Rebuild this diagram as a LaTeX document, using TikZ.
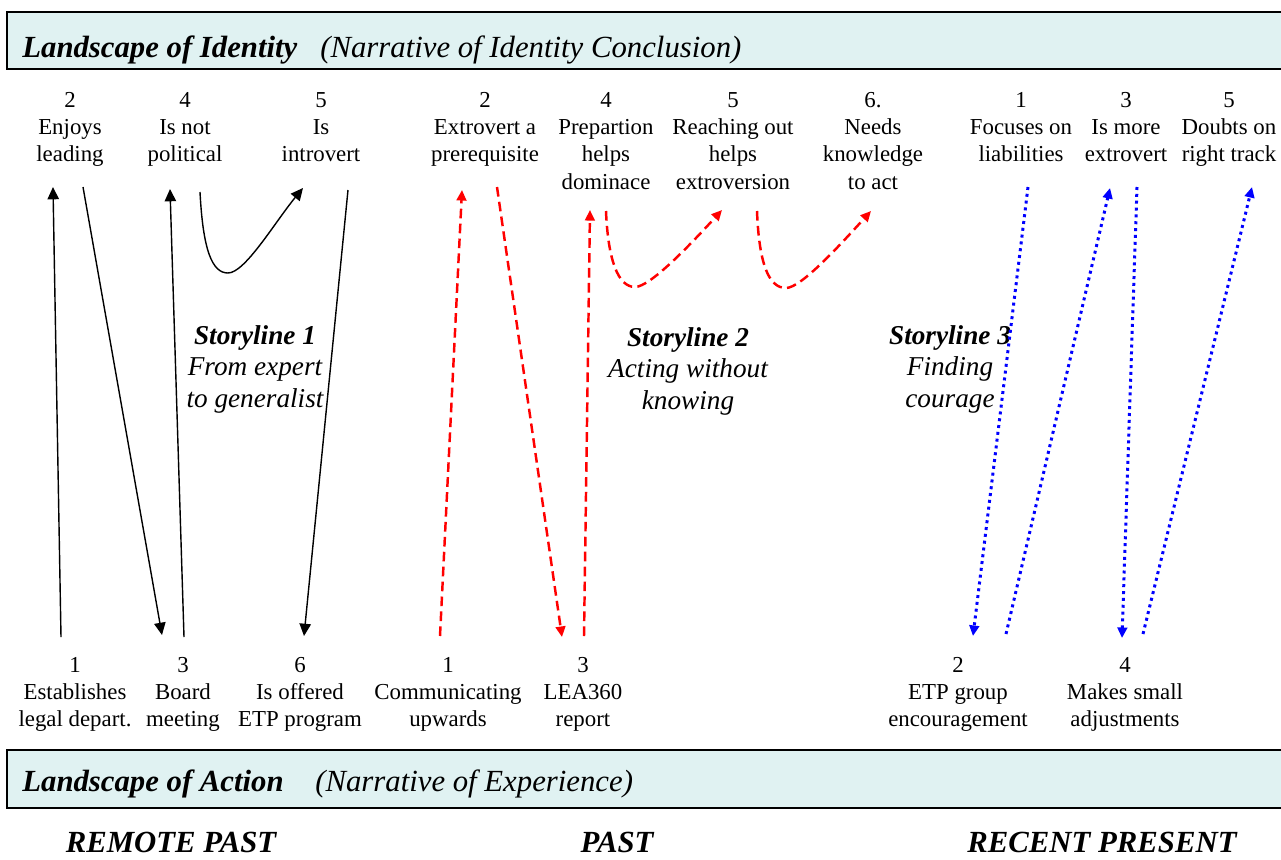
\documentclass[tikz,border=0pt]{standalone}
\usepackage{fontspec}
\setmainfont{Liberation Serif}
\usetikzlibrary{arrows.meta}
\definecolor{bandcyan}{RGB}{224,242,242}
\begin{document}
\begin{tikzpicture}[x=.02cm, y=-.02cm,
  lbl/.style={font=\fontsize{13}{15.5}\selectfont, align=center, inner sep=0pt, anchor=north},
  story/.style={font=\fontsize{15.5}{18}\selectfont\itshape, align=center, inner sep=0pt, anchor=north},
  hdr/.style={font=\fontsize{17.5}{21}\selectfont\bfseries\itshape, inner sep=0pt, anchor=base west},
  hdrsub/.style={font=\fontsize{17.5}{21}\selectfont\itshape, inner sep=0pt, anchor=base west},
  era/.style={font=\fontsize{17.5}{21}\selectfont\bfseries\itshape, inner sep=0pt, anchor=base},
  band/.style={draw=black, line width=0.9pt, fill=bandcyan},
  plain/.style={draw=black, line width=0.8pt, -{Triangle[length=7pt,width=6.5pt]}},
  redline/.style={draw=red, line width=1.4pt, dash pattern=on 5.5pt off 3pt, -{Triangle[length=6pt,width=5.5pt]}},
  blueline/.style={draw=blue, line width=1.7pt, dash pattern=on 1.7pt off 2.2pt, -{Triangle[length=6pt,width=5.5pt]}}]
\useasboundingbox (0,0) rectangle (1281,859);
\draw[band] (7,12) rectangle (1295,69);
\node[hdr] (lid) at (22,57) {Landscape of Identity};
\node[hdrsub] (nid) at (320,57) {(Narrative of Identity Conclusion)};
\draw[band] (7,750) rectangle (1295,808);
\node[hdr] (lac) at (22,791) {Landscape of Action};
\node[hdrsub] (nex) at (315,791) {(Narrative of Experience)};
\node[era] (rp) at (171,852) {REMOTE PAST};
\node[era] (pa) at (617,852) {PAST};
\node[era] (rc) at (1102,852) {RECENT PRESENT};

\node[lbl] (i12) at (70,92) {2\\Enjoys\\leading};
\node[lbl] (i14) at (185,92) {4\\Is not\\political};
\node[lbl] (i15) at (321,92) {5\\Is\\introvert};
\node[lbl] (i22) at (485,92) {2\\Extrovert a\\prerequisite};
\node[lbl] (i24) at (606,92) {4\\Prepartion\\helps\\dominace};
\node[lbl] (i25) at (733,92) {5\\Reaching out\\helps\\extroversion};
\node[lbl] (i26) at (873,92) {6.\\Needs\\knowledge\\to act};
\node[lbl] (i31) at (1021,92) {1\\Focuses on\\liabilities};
\node[lbl] (i33) at (1126,92) {3\\Is more\\extrovert};
\node[lbl] (i35) at (1229,92) {5\\Doubts on\\right track};

\node[lbl] (a11) at (75,657) {1\\Establishes\\legal depart.};
\node[lbl] (a13) at (183,657) {3\\Board\\meeting};
\node[lbl] (a16) at (300,657) {6\\Is offered\\ETP program};
\node[lbl] (a21) at (448,657) {1\\Communicating\\upwards};
\node[lbl] (a23) at (583,657) {3\\LEA360\\report};
\node[lbl] (a32) at (958,657) {2\\ETP group\\encouragement};
\node[lbl] (a34) at (1125,657) {4\\Makes small\\adjustments};

\node[story] (s1) at (255,325) {\textbf{Storyline 1}\\From expert\\to generalist};
\node[story] (s2) at (688,327) {\textbf{Storyline 2}\\Acting without\\knowing};
\node[story] (s3) at (950,325) {\textbf{Storyline 3}\\Finding\\courage};

\coordinate (k1a) at (61,637);
\coordinate (k1b) at (53,187);
\coordinate (k2a) at (83,187);
\coordinate (k2b) at (162,635);
\coordinate (k3a) at (184,637);
\coordinate (k3b) at (170,189);
\coordinate (k4a) at (200,192);
\coordinate (k4m) at (228,273);
\coordinate (k4b) at (303,188);
\coordinate (k5a) at (348,190);
\coordinate (k5b) at (304,636);
\draw[plain] (k1a) -- (k1b);
\draw[plain] (k2a) -- (k2b);
\draw[plain] (k3a) -- (k3b);
\draw[plain] (k4a) .. controls (203,250) and (212,273) .. (k4m) .. controls (245,273) and (275,222) .. (k4b);
\draw[plain] (k5a) -- (k5b);

\coordinate (r1a) at (440,636);
\coordinate (r1b) at (462,190);
\coordinate (r2a) at (497,187);
\coordinate (r2b) at (562,637);
\coordinate (r3a) at (584,636);
\coordinate (r3b) at (590,210);
\coordinate (r4a) at (606,211);
\coordinate (r4m) at (635,287);
\coordinate (r4b) at (722,210);
\coordinate (r5a) at (757,211);
\coordinate (r5m) at (786,288);
\coordinate (r5b) at (871,211);
\draw[redline] (r1a) -- (r1b);
\draw[redline] (r2a) -- (r2b);
\draw[redline] (r3a) -- (r3b);
\draw[redline] (r4a) .. controls (608,260) and (618,287) .. (r4m) .. controls (650,287) and (690,245) .. (r4b);
\draw[redline] (r5a) .. controls (759,262) and (768,288) .. (r5m) .. controls (801,288) and (840,245) .. (r5b);

\coordinate (b1a) at (1028,187);
\coordinate (b1b) at (973,636);
\coordinate (b2a) at (1006,634);
\coordinate (b2b) at (1110,188);
\coordinate (b3a) at (1137,187);
\coordinate (b3b) at (1122,638);
\coordinate (b4a) at (1143,634);
\coordinate (b4b) at (1252,187);
\draw[blueline] (b1a) -- (b1b);
\draw[blueline] (b2a) -- (b2b);
\draw[blueline] (b3a) -- (b3b);
\draw[blueline] (b4a) -- (b4b);
\end{tikzpicture}
\end{document}
